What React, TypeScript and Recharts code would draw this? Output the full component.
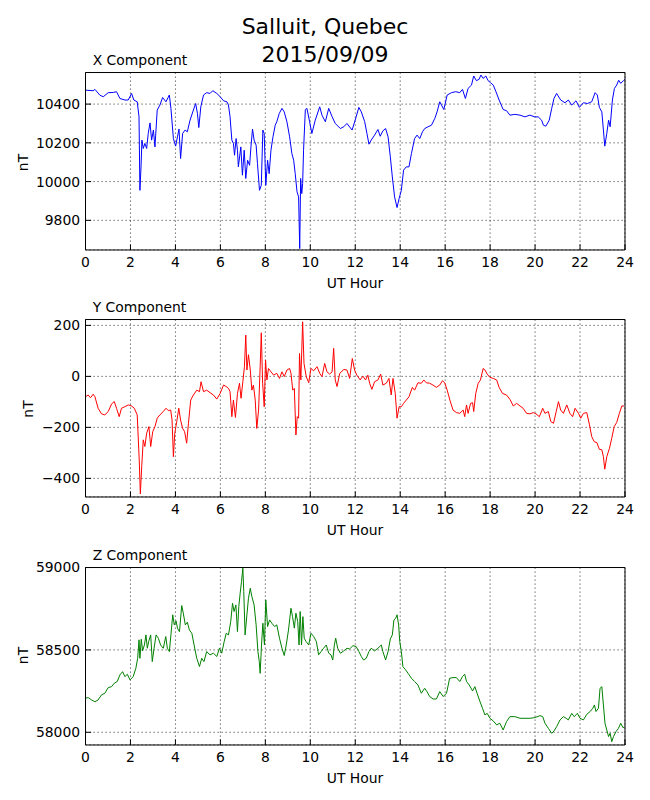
import React from 'react';
import { LineChart, Line, XAxis, YAxis, CartesianGrid } from 'recharts';

const hourTicks = [0, 2, 4, 6, 8, 10, 12, 14, 16, 18, 20, 22, 24];
const minorHourTicks = [1, 3, 5, 7, 9, 11, 13, 15, 17, 19, 21, 23];
const xCompTicks = [9800, 10000, 10200, 10400];
const yCompTicks = [-400, -200, 0, 200];
const zCompTicks = [58000, 58500, 59000];

const xHours = [
  0, 0.34, 0.42, 0.64, 0.79, 1.01, 1.23, 1.38, 1.53, 1.75, 1.9, 2.05, 2.15, 2.3, 2.38, 2.42, 2.47, 2.51, 2.57, 2.64,
  2.72, 2.79, 2.87, 2.94, 3.02, 3.09, 3.19, 3.31, 3.43, 3.58, 3.73, 3.8, 3.91, 4.01, 4.09, 4.16, 4.23, 4.32, 4.43, 4.53,
  4.65, 4.8, 4.9, 4.98, 5.04, 5.13, 5.25, 5.39, 5.54, 5.66, 5.84, 5.99, 6.14, 6.29, 6.36, 6.43, 6.51, 6.58, 6.63, 6.7,
  6.76, 6.8, 6.91, 6.98, 7.06, 7.13, 7.21, 7.3, 7.36, 7.43, 7.5, 7.59, 7.65, 7.74, 7.82, 7.89, 7.95, 8.02, 8.1, 8.17,
  8.25, 8.34, 8.44, 8.51, 8.62, 8.74, 8.84, 8.96, 9.08, 9.18, 9.26, 9.33, 9.41, 9.48, 9.53, 9.57, 9.62, 9.66, 9.7, 9.78,
  9.85, 9.97, 10.07, 10.22, 10.42, 10.52, 10.67, 10.82, 10.97, 11.11, 11.34, 11.49, 11.63, 11.86, 12.04, 12.16, 12.27, 12.42, 12.52, 12.61,
  12.71, 12.86, 13.01, 13.11, 13.23, 13.35, 13.46, 13.56, 13.65, 13.75, 13.86, 13.95, 14.05, 14.15, 14.27, 14.39, 14.5, 14.64, 14.75, 14.87,
  14.99, 15.09, 15.24, 15.39, 15.54, 15.64, 15.76, 15.94, 16.09, 16.28, 16.47, 16.65, 16.77, 16.9, 17.02, 17.17, 17.27, 17.39, 17.51, 17.59,
  17.69, 17.81, 17.91, 18.02, 18.14, 18.26, 18.4, 18.58, 18.73, 18.88, 19.1, 19.33, 19.55, 19.77, 19.99, 20.14, 20.29, 20.37, 20.48, 20.63,
  20.74, 20.84, 20.96, 21.14, 21.33, 21.48, 21.63, 21.82, 21.97, 22.15, 22.33, 22.52, 22.67, 22.77, 22.86, 22.97, 23.04, 23.1, 23.19, 23.27,
  23.34, 23.44, 23.53, 23.63, 23.72, 23.81, 23.93, 24,
];
const xValues = [
  10472, 10469, 10476, 10446, 10438, 10459, 10460, 10464, 10429, 10421, 10421, 10455, 10421, 10412, 10335, 9955, 10076, 10214, 10171, 10197,
  10171, 10248, 10303, 10214, 10266, 10179, 10369, 10395, 10434, 10412, 10447, 10378, 10222, 10183, 10231, 10271, 10119, 10248, 10266, 10257,
  10317, 10369, 10403, 10352, 10279, 10386, 10447, 10459, 10455, 10469, 10455, 10438, 10417, 10412, 10395, 10335, 10214, 10197, 10136, 10222,
  10162, 10076, 10179, 10033, 10162, 10016, 10110, 10084, 10179, 10271, 10214, 10188, 10093, 9955, 9981, 10266, 10248, 9981, 10110, 10041,
  10162, 10231, 10291, 10309, 10352, 10378, 10360, 10309, 10231, 10145, 10110, 10041, 9947, 9921, 9654, 10016, 9938, 9990, 10162, 10372,
  10378, 10309, 10248, 10317, 10386, 10343, 10309, 10378, 10335, 10300, 10274, 10283, 10300, 10266, 10334, 10383, 10360, 10309, 10248, 10193,
  10214, 10240, 10269, 10234, 10262, 10274, 10231, 10128, 10024, 9921, 9866, 9912, 9955, 10059, 10076, 10076, 10145, 10222, 10240, 10222,
  10257, 10274, 10283, 10291, 10326, 10360, 10412, 10372, 10447, 10459, 10464, 10459, 10476, 10429, 10481, 10498, 10545, 10521, 10528, 10550,
  10533, 10545, 10521, 10510, 10498, 10464, 10421, 10372, 10366, 10343, 10347, 10343, 10334, 10343, 10334, 10334, 10317, 10291, 10286, 10317,
  10378, 10429, 10455, 10421, 10407, 10421, 10395, 10417, 10383, 10407, 10403, 10412, 10459, 10447, 10383, 10360, 10266, 10183, 10248, 10317,
  10283, 10421, 10481, 10498, 10523, 10507, 10521, 10528,
];

const yHours = [
  0, 0.12, 0.22, 0.34, 0.42, 0.56, 0.71, 0.86, 1.01, 1.16, 1.28, 1.38, 1.5, 1.6, 1.75, 1.9, 2.05, 2.17, 2.3, 2.39,
  2.44, 2.5, 2.57, 2.64, 2.72, 2.82, 2.9, 2.99, 3.09, 3.19, 3.31, 3.46, 3.58, 3.68, 3.79, 3.85, 3.91, 3.97, 4.06, 4.15,
  4.23, 4.32, 4.41, 4.5, 4.58, 4.68, 4.8, 4.95, 5.07, 5.14, 5.25, 5.39, 5.54, 5.69, 5.84, 5.99, 6.14, 6.26, 6.36, 6.43,
  6.51, 6.58, 6.67, 6.76, 6.85, 6.92, 7.0, 7.07, 7.13, 7.18, 7.25, 7.33, 7.4, 7.47, 7.55, 7.62, 7.7, 7.77, 7.82, 7.88,
  7.95, 8.01, 8.07, 8.14, 8.25, 8.37, 8.51, 8.63, 8.74, 8.84, 8.96, 9.08, 9.14, 9.22, 9.29, 9.36, 9.42, 9.48, 9.52, 9.58,
  9.66, 9.72, 9.82, 9.93, 10.03, 10.15, 10.3, 10.42, 10.52, 10.64, 10.74, 10.86, 10.97, 11.04, 11.11, 11.19, 11.31, 11.49, 11.63, 11.75,
  11.87, 11.97, 12.07, 12.22, 12.34, 12.46, 12.56, 12.64, 12.74, 12.86, 13.01, 13.13, 13.23, 13.38, 13.5, 13.6, 13.68, 13.78, 13.86, 13.95,
  14.05, 14.15, 14.27, 14.39, 14.54, 14.64, 14.79, 14.94, 15.05, 15.16, 15.31, 15.46, 15.61, 15.76, 15.88, 15.98, 16.09, 16.21, 16.35, 16.5,
  16.65, 16.8, 16.87, 16.95, 17.02, 17.13, 17.22, 17.27, 17.36, 17.47, 17.57, 17.69, 17.77, 17.87, 17.99, 18.14, 18.29, 18.4, 18.55, 18.73,
  18.88, 19.03, 19.18, 19.33, 19.47, 19.62, 19.77, 19.92, 20.04, 20.19, 20.34, 20.44, 20.59, 20.7, 20.82, 20.94, 21.04, 21.14, 21.26, 21.41,
  21.55, 21.67, 21.78, 21.93, 22.03, 22.15, 22.3, 22.42, 22.52, 22.63, 22.75, 22.86, 22.97, 23.04, 23.1, 23.19, 23.31, 23.41, 23.52, 23.63,
  23.75, 23.86, 23.96,
];
const yValues = [
  -80, -73, -84, -70, -80, -125, -147, -151, -138, -108, -99, -125, -158, -125, -119, -112, -116, -125, -151, -328,
  -461, -354, -249, -275, -223, -197, -275, -217, -197, -164, -151, -138, -125, -134, -132, -171, -315, -223, -177, -125,
  -171, -204, -217, -262, -184, -93, -73, -54, -60, -21, -60, -54, -64, -73, -89, -67, -34, -40, -47, -60,
  -158, -93, -161, -67, -27, -86, -21, 38, 162, 25, 85, 25, -54, -34, -93, -204, -132, 38, 171, -27,
  -119, 64, -14, 31, 18, 5, 12, -8, 18, -1, 25, 31, 12, -54, -47, -230, -158, -164, 90, -14,
  214, 51, -1, -25, 31, 22, 38, 12, -1, 51, 18, 9, 18, 110, -14, -40, 12, 27, 25, -8,
  70, 25, 5, -14, 1, -14, 5, -27, -51, -21, -14, 9, -34, -27, -8, -73, -8, -67, -164, -119,
  -119, -106, -93, -80, -43, -54, -25, -27, -14, -25, -27, -34, -43, -34, -17, -25, -54, -93, -132, -142,
  -145, -132, -158, -112, -145, -106, -103, -138, -67, -27, -14, 31, 25, 9, -4, -8, -14, -43, -67, -73,
  -90, -116, -106, -116, -125, -145, -147, -142, -147, -158, -125, -145, -138, -177, -184, -138, -99, -132, -145, -112,
  -145, -158, -125, -145, -164, -145, -142, -190, -236, -256, -260, -286, -288, -315, -364, -315, -282, -243, -197, -181,
  -145, -116, -116,
];

const zHours = [
  0, 0.12, 0.27, 0.42, 0.56, 0.71, 0.86, 1.01, 1.16, 1.28, 1.41, 1.53, 1.65, 1.75, 1.86, 1.98, 2.12, 2.24, 2.32, 2.38,
  2.42, 2.48, 2.54, 2.62, 2.69, 2.75, 2.81, 2.9, 2.97, 3.05, 3.14, 3.24, 3.34, 3.46, 3.57, 3.64, 3.73, 3.8, 3.88, 3.95,
  4.03, 4.09, 4.18, 4.28, 4.35, 4.44, 4.53, 4.62, 4.73, 4.83, 4.95, 5.07, 5.17, 5.27, 5.39, 5.54, 5.69, 5.84, 5.96, 6.06,
  6.17, 6.26, 6.36, 6.46, 6.54, 6.61, 6.69, 6.76, 6.82, 6.88, 6.94, 7.0, 7.04, 7.1, 7.18, 7.25, 7.33, 7.4, 7.5, 7.59,
  7.67, 7.73, 7.77, 7.83, 7.89, 7.96, 8.02, 8.1, 8.19, 8.29, 8.41, 8.51, 8.63, 8.74, 8.84, 8.93, 9.03, 9.14, 9.21, 9.29,
  9.36, 9.44, 9.5, 9.55, 9.61, 9.67, 9.73, 9.81, 9.93, 10.03, 10.15, 10.27, 10.37, 10.48, 10.59, 10.71, 10.82, 10.92, 11.0, 11.07,
  11.13, 11.22, 11.34, 11.49, 11.63, 11.75, 11.9, 12.04, 12.16, 12.27, 12.37, 12.49, 12.61, 12.71, 12.86, 13.01, 13.16, 13.23, 13.35, 13.46,
  13.56, 13.65, 13.72, 13.8, 13.86, 13.93, 13.98, 14.05, 14.12, 14.24, 14.35, 14.5, 14.64, 14.79, 14.94, 15.09, 15.19, 15.31, 15.46, 15.61,
  15.76, 15.91, 16.06, 16.2, 16.35, 16.5, 16.65, 16.77, 16.87, 16.95, 17.07, 17.22, 17.32, 17.42, 17.54, 17.66, 17.77, 17.87, 17.99, 18.14,
  18.29, 18.43, 18.58, 18.73, 18.88, 19.1, 19.33, 19.55, 19.77, 19.99, 20.22, 20.34, 20.44, 20.59, 20.74, 20.84, 20.96, 21.11, 21.26, 21.38,
  21.48, 21.63, 21.74, 21.88, 22.0, 22.15, 22.3, 22.45, 22.57, 22.64, 22.71, 22.82, 22.89, 22.97, 23.04, 23.11, 23.19, 23.27, 23.34, 23.41,
  23.49, 23.6, 23.71, 23.81, 23.91, 23.98,
];
const zValues = [
  58207, 58211, 58196, 58186, 58196, 58227, 58237, 58271, 58277, 58298, 58308, 58348, 58368, 58338, 58352, 58318, 58338, 58389, 58449, 58561,
  58449, 58565, 58494, 58530, 58591, 58510, 58551, 58591, 58429, 58510, 58591, 58571, 58530, 58510, 58581, 58510, 58490, 58591, 58713, 58652,
  58676, 58632, 58611, 58769, 58723, 58652, 58668, 58621, 58601, 58530, 58449, 58399, 58449, 58429, 58490, 58470, 58480, 58460, 58510, 58480,
  58551, 58601, 58591, 58672, 58783, 58733, 58773, 58611, 58763, 58844, 58915, 58996, 58854, 58591, 58713, 58814, 58874, 58824, 58773, 58652,
  58490, 58429, 58358, 58530, 58662, 58530, 58804, 58642, 58682, 58662, 58642, 58652, 58571, 58510, 58466, 58530, 58621, 58753, 58702, 58632,
  58723, 58672, 58530, 58733, 58530, 58702, 58571, 58551, 58530, 58601, 58581, 58551, 58470, 58490, 58510, 58530, 58480, 58470, 58439, 58530,
  58571, 58510, 58480, 58494, 58510, 58506, 58526, 58520, 58490, 58460, 58439, 58449, 58490, 58510, 58494, 58510, 58530, 58490, 58439, 58490,
  58567, 58591, 58682, 58692, 58713, 58652, 58551, 58490, 58399, 58379, 58358, 58328, 58308, 58287, 58237, 58267, 58247, 58217, 58202, 58202,
  58247, 58217, 58237, 58328, 58332, 58332, 58308, 58338, 58352, 58308, 58287, 58251, 58277, 58237, 58190, 58146, 58105, 58115, 58085, 58069,
  58045, 58055, 58014, 58065, 58095, 58095, 58085, 58085, 58085, 58089, 58101, 58095, 58055, 58024, 57994, 58008, 58034, 58075, 58095, 58085,
  58075, 58115, 58095, 58115, 58085, 58075, 58109, 58126, 58146, 58166, 58126, 58146, 58267, 58277, 58166, 58055, 58014, 57974, 57994, 57943,
  57974, 58004, 58024, 58055, 58028, 58034,
];

const FONT = 'DejaVu Sans, sans-serif';
const TICK_FONT = 13.9;
const MAJOR = -5.6;
const MINOR = -2.8;
const THIN = 0.01;

const fmtNum = (v: number) => (v < 0 ? '\u2212' + Math.abs(v) : String(v));

type PanelProps = {
  hours: number[];
  values: number[];
  color: string;
  domain: [number, number];
  ticks: number[];
  top: number;
};

function Panel({ hours, values, color, domain, ticks, top }: PanelProps) {
  const data = hours.map((h, i) => ({ hour: h, value: values[i] }));
  const axisStroke = { stroke: '#000', strokeWidth: 1 };
  return (
    <div style={{ position: 'absolute', left: 0, top, width: 650, height: 300 }}>
      <LineChart
        width={650}
        height={300}
        data={data}
        margin={{ top: 72.5, right: 25, bottom: 50, left: 85.5 }}
      >
        <CartesianGrid
          xAxisId="b"
          yAxisId="l"
          stroke="#000"
          strokeWidth={0.7}
          strokeDasharray="1.2 2.8"
        />
        <XAxis
          xAxisId="b"
          dataKey="hour"
          type="number"
          domain={[0, 24]}
          allowDataOverflow
          ticks={hourTicks}
          interval={0}
          height={THIN}
          tickSize={MAJOR}
          tickMargin={13}
          axisLine={axisStroke}
          tickLine={axisStroke}
          tick={{ fontSize: TICK_FONT, fill: '#000', fontFamily: FONT }}
        />
        <XAxis
          xAxisId="bm"
          dataKey="hour"
          type="number"
          domain={[0, 24]}
          allowDataOverflow
          ticks={minorHourTicks}
          interval={0}
          height={THIN}
          tickSize={MINOR}
          axisLine={false}
          tickLine={axisStroke}
          tick={false}
        />
        <XAxis
          xAxisId="t"
          orientation="top"
          dataKey="hour"
          type="number"
          domain={[0, 24]}
          allowDataOverflow
          ticks={hourTicks}
          interval={0}
          height={THIN}
          tickSize={MAJOR}
          axisLine={axisStroke}
          tickLine={axisStroke}
          tick={false}
        />
        <XAxis
          xAxisId="tm"
          orientation="top"
          dataKey="hour"
          type="number"
          domain={[0, 24]}
          allowDataOverflow
          ticks={minorHourTicks}
          interval={0}
          height={THIN}
          tickSize={MINOR}
          axisLine={false}
          tickLine={axisStroke}
          tick={false}
        />
        <YAxis
          yAxisId="l"
          type="number"
          domain={domain}
          allowDataOverflow
          ticks={ticks}
          interval={0}
          width={THIN}
          tickSize={MAJOR}
          tickMargin={11}
          axisLine={axisStroke}
          tickLine={axisStroke}
          tickFormatter={fmtNum}
          tick={{ fontSize: TICK_FONT, fill: '#000', fontFamily: FONT }}
        />
        <YAxis
          yAxisId="r"
          orientation="right"
          type="number"
          domain={domain}
          allowDataOverflow
          ticks={ticks}
          interval={0}
          width={THIN}
          tickSize={MAJOR}
          axisLine={axisStroke}
          tickLine={axisStroke}
          tick={false}
        />
        <Line
          xAxisId="b"
          yAxisId="l"
          type="linear"
          dataKey="value"
          stroke={color}
          strokeWidth={1}
          dot={false}
          isAnimationActive={false}
        />
      </LineChart>
    </div>
  );
}

export default function App() {
  const textStyle = { fontFamily: FONT, fill: '#000' };
  return (
    <div style={{ position: 'absolute', left: 0, top: 0, width: 650, height: 800, background: '#fff' }}>
      <Panel hours={xHours} values={xValues} color="#0000ff" domain={[9647, 10563]} ticks={xCompTicks} top={0} />
      <Panel hours={yHours} values={yValues} color="#ff0000" domain={[-473, 223]} ticks={yCompTicks} top={246.5} />
      <Panel hours={zHours} values={zValues} color="#008000" domain={[57923, 59000]} ticks={zCompTicks} top={494.5} />
      <svg
        width={650}
        height={800}
        style={{ position: 'absolute', left: 0, top: 0, pointerEvents: 'none' }}
      >
        <text x={325} y={34.3} textAnchor="middle" fontSize={22} style={textStyle}>Salluit, Quebec</text>
        <text x={325} y={61.7} textAnchor="middle" fontSize={22} style={textStyle}>2015/09/09</text>

        <text x={92.7} y={65} fontSize={TICK_FONT} style={textStyle}>X Component</text>
        <text x={92.7} y={312} fontSize={TICK_FONT} style={textStyle}>Y Component</text>
        <text x={92.7} y={559.5} fontSize={TICK_FONT} style={textStyle}>Z Component</text>

        <text x={355} y={288.3} textAnchor="middle" fontSize={TICK_FONT} style={textStyle}>UT Hour</text>
        <text x={355} y={535} textAnchor="middle" fontSize={TICK_FONT} style={textStyle}>UT Hour</text>
        <text x={355} y={782.5} textAnchor="middle" fontSize={TICK_FONT} style={textStyle}>UT Hour</text>

        <text transform="translate(28.3,162.5) rotate(-90)" textAnchor="middle" fontSize={TICK_FONT} style={textStyle}>nT</text>
        <text transform="translate(33.3,409) rotate(-90)" textAnchor="middle" fontSize={TICK_FONT} style={textStyle}>nT</text>
        <text transform="translate(28.3,655.5) rotate(-90)" textAnchor="middle" fontSize={TICK_FONT} style={textStyle}>nT</text>
      </svg>
    </div>
  );
}
